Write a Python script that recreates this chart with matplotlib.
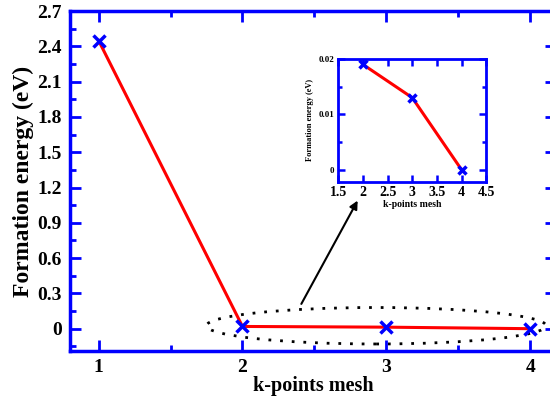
import matplotlib
matplotlib.use("Agg")
import matplotlib.pyplot as plt
from matplotlib.patches import Ellipse
from matplotlib.ticker import MultipleLocator

kpoints = [1, 2, 3, 4]
energy = [2.45, 0.019, 0.013, 0.0]
inset_k = [2, 3, 4]
inset_e = [0.019, 0.013, 0.0]

plt.rcParams['font.family'] = ['Liberation Serif', 'DejaVu Serif']
plt.rcParams['font.weight'] = 'bold'

BLUE = '#0000ff'
fig = plt.figure(figsize=(5.5, 3.98), dpi=100)
ax = fig.add_axes([0.127, 0.118, 0.884, 0.854])
ax.plot(kpoints, energy, color='red', lw=2.2, zorder=2)
ax.plot(kpoints, energy, ls='none', marker='x', ms=9, mew=2.5, color=BLUE, zorder=3)
ax.set_xlim(0.8, 4.18)
ax.set_ylim(-0.19, 2.7)
ax.xaxis.set_major_locator(MultipleLocator(1))
ax.xaxis.set_minor_locator(MultipleLocator(0.5))
ax.yaxis.set_minor_locator(MultipleLocator(0.15))
ax.set_yticks([0, 0.3, 0.6, 0.9, 1.2, 1.5, 1.8, 2.1, 2.4, 2.7])
ax.set_yticklabels(['0', '0.3', '0.6', '0.9', '1.2', '1.5', '1.8', '2.1', '2.4', '2.7'])
for s in ax.spines.values():
    s.set_color(BLUE)
    s.set_linewidth(2.5)
ax.tick_params(which='both', direction='in', top=True, right=True, color=BLUE, width=2)
ax.tick_params(which='major', length=8, labelsize=14, pad=6)
ax.tick_params(which='minor', length=4)
for lab in ax.get_xticklabels() + ax.get_yticklabels():
    lab.set_fontweight('bold')
ax.set_xlabel('k-points mesh', fontsize=14.5, fontweight='bold', labelpad=0)
ax.set_ylabel('Formation energy (eV)', fontsize=17, fontweight='bold', labelpad=2)

ell = Ellipse((2.93, 0.025), 2.36, 0.31, fill=False, ls=(0, (1, 3.2)), lw=2, ec='black', zorder=1)
ax.add_patch(ell)
ax.annotate('', xy=(2.81, 1.11), xytext=(2.40, 0.19),
            arrowprops=dict(arrowstyle='-|>', color='black', lw=1.5, mutation_scale=12))

ins = fig.add_axes([0.615, 0.543, 0.269, 0.309])
ins.plot(inset_k, inset_e, color='red', lw=2.2, zorder=2)
ins.plot(inset_k, inset_e, ls='none', marker='x', ms=6, mew=2.5, color=BLUE, zorder=3)
ins.set_xlim(1.5, 4.5)
ins.set_ylim(-0.0022, 0.02)
ins.set_xticks([1.5, 2, 2.5, 3, 3.5, 4, 4.5])
ins.set_xticklabels(['1.5', '2', '2.5', '3', '3.5', '4', '4.5'])
ins.set_yticks([0, 0.01, 0.02])
ins.set_yticklabels(['0', '0.01', '0.02'])
ins.yaxis.set_minor_locator(MultipleLocator(0.005))
for s in ins.spines.values():
    s.set_color(BLUE)
    s.set_linewidth(2)
ins.tick_params(which='both', direction='in', top=True, right=True, color=BLUE, width=1.8)
ins.tick_params(which='major', length=5)
ins.tick_params(which='minor', length=3)
ins.tick_params(axis='x', labelsize=10, pad=3)
ins.tick_params(axis='y', labelsize=6.5, pad=3)
for lab in ins.get_xticklabels() + ins.get_yticklabels():
    lab.set_fontweight('bold')
ins.set_xlabel('k-points mesh', fontsize=7, fontweight='bold', labelpad=1)
ins.set_ylabel('Formation energy (eV)', fontsize=6, fontweight='bold', labelpad=3)

fig.savefig('out.png', dpi=100)
